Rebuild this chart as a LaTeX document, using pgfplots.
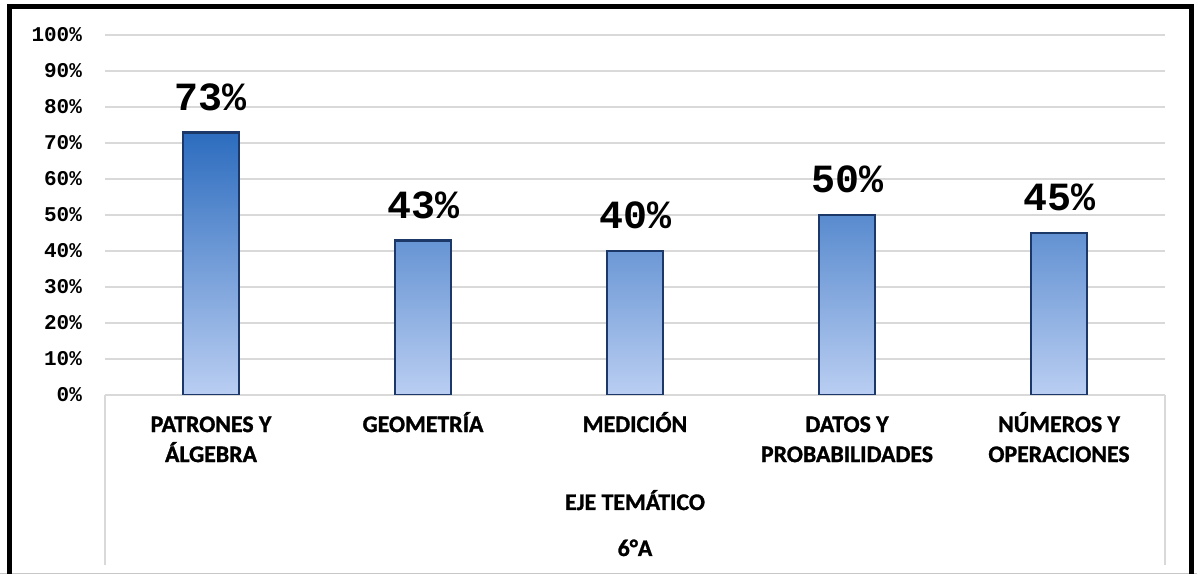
\documentclass[border=0pt]{standalone}
\usepackage{pgfplots}
\pgfplotsset{compat=1.18}
\usepackage{fontspec}
\setmainfont{Carlito}[BoldFeatures={FakeBold=1.2}]
\newfontfamily\cour{Liberation Mono}
\definecolor{gridgray}{RGB}{217,217,217}
\definecolor{bartop}{RGB}{44,108,190}
\definecolor{barbot}{RGB}{186,206,242}
\definecolor{baredge}{RGB}{28,56,104}
\begin{document}
\begin{tikzpicture}
\useasboundingbox (0,0) rectangle (598.5pt,288pt);
% outer frame
\draw[gridgray!80!gray, line width=0.8pt] (0,1.2pt) -- (598.5pt,1.2pt);
\draw[black, line width=2.5pt] (4.75pt,1.2pt) -- (4.75pt,284.5pt) -- (595.5pt,284.5pt) -- (595.5pt,1.2pt);
% gray box around category area
\draw[gridgray, line width=0.8pt] (52.5pt,90.5pt) -- (52.5pt,5.5pt);
\draw[gridgray, line width=0.8pt] (582.5pt,90.5pt) -- (582.5pt,5.5pt);
\begin{axis}[
  at={(52.5pt,90.5pt)}, anchor=south west,
  scale only axis, width=530pt, height=180pt,
  xmin=-0.5, xmax=4.5, ymin=0, ymax=100,
  axis line style={draw=none},
  ytick={0,10,...,100},
  ymajorgrids, grid style={gridgray, line width=0.8pt},
  major tick length=0pt,
  /pgf/number format/assume math mode=true,
  yticklabel={\pgfmathprintnumber{\tick}\%},
  yticklabel style={font=\cour\bfseries\fontsize{10.5}{13}\selectfont, xshift=-8pt},
  xtick=data,
  xticklabels={{\strut PATRONES Y\\ÁLGEBRA},{\strut GEOMETRÍA},{\strut MEDICIÓN},{\strut DATOS Y\\PROBABILIDADES},{\strut NÚMEROS Y\\OPERACIONES}},
  xticklabel style={align=center, font=\bfseries\fontsize{11.9}{15}\selectfont, yshift=-4.5pt},
  nodes near coords={\pgfmathprintnumber{\pgfplotspointmeta}\%},
  every node near coord/.append style={font=\cour\bfseries\fontsize{20}{22}\selectfont, anchor=base, yshift=11pt},
]
\addplot[ybar, bar width=28pt, top color=bartop, bottom color=barbot, draw=baredge, line width=1.4pt]
  coordinates {(0,73) (1,43) (2,40) (3,50) (4,45)};
\end{axis}
\node[font=\bfseries\fontsize{11.9}{15}\selectfont, anchor=base] at (317.5pt,33pt) {EJE TEMÁTICO};
\node[font=\bfseries\fontsize{11.9}{15}\selectfont, anchor=base] at (317.5pt,10pt) {6°A};
\end{tikzpicture}
\end{document}
